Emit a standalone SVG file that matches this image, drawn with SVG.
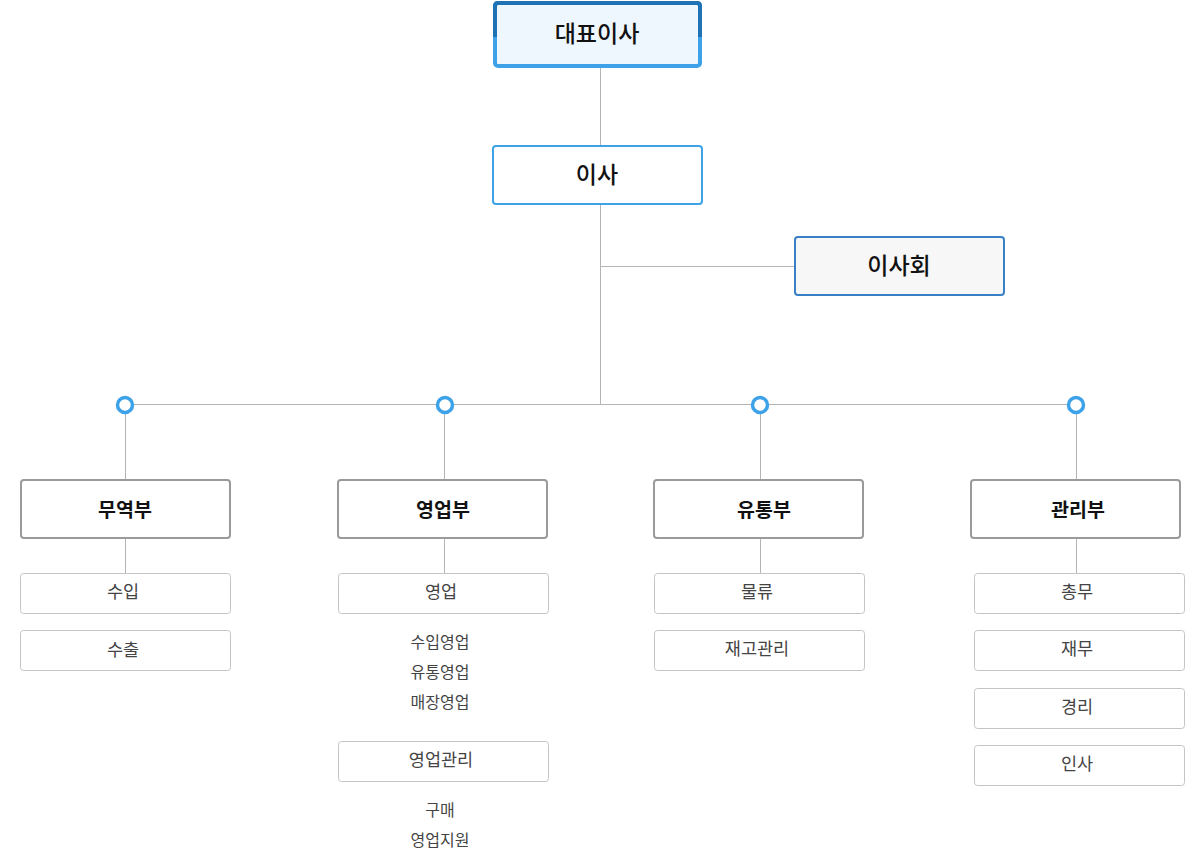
<svg xmlns="http://www.w3.org/2000/svg" width="1200" height="850" viewBox="0 0 1200 850">
<defs>
<style>
text{font-family:"Noto Sans CJK KR","Noto Sans",sans-serif;text-anchor:middle;dominant-baseline:central}
.t1{font-size:23px;font-weight:500;fill:#111}
.t2{font-size:19.5px;font-weight:700;fill:#111}
.t3{font-size:17.5px;fill:#444}
.t4{font-size:16px;fill:#444}
.ln{stroke:#b4b4b4;stroke-width:1;fill:none}
.dept{fill:#fff;stroke:#9a9a9a;stroke-width:2}
.sub{fill:#fff;stroke:#c4c4c4;stroke-width:1}
.dot{fill:#fff;stroke:#3ea2e8;stroke-width:3.5}
</style>
</defs>
<g id="connectors">
<line class="ln" x1="600.5" y1="68" x2="600.5" y2="146"/>
<line class="ln" x1="600.5" y1="204" x2="600.5" y2="404"/>
<line class="ln" x1="600" y1="266.5" x2="795" y2="266.5"/>
<line class="ln" x1="125" y1="404.5" x2="1076" y2="404.5"/>
<line class="ln" x1="125.5" y1="405" x2="125.5" y2="480"/>
<line class="ln" x1="444.5" y1="405" x2="444.5" y2="480"/>
<line class="ln" x1="760.5" y1="405" x2="760.5" y2="480"/>
<line class="ln" x1="1076.5" y1="405" x2="1076.5" y2="480"/>
<line class="ln" x1="125.5" y1="538" x2="125.5" y2="574"/>
<line class="ln" x1="444.5" y1="538" x2="444.5" y2="574"/>
<line class="ln" x1="760.5" y1="538" x2="760.5" y2="574"/>
<line class="ln" x1="1076.5" y1="538" x2="1076.5" y2="574"/>
<circle class="dot" cx="125" cy="405" r="7.5"/>
<circle class="dot" cx="445" cy="405" r="7.5"/>
<circle class="dot" cx="760" cy="405" r="7.5"/>
<circle class="dot" cx="1076" cy="405" r="7.5"/>
</g>
<g id="ceo">
<rect x="495" y="3" width="205" height="63" rx="3" fill="#eef7fd" stroke="#3ea2e8" stroke-width="4"/>
<path d="M495 37 V6 Q495 3 498 3 H697 Q700 3 700 6 V37" fill="none" stroke="#1f72b4" stroke-width="4"/>
<text class="t1" x="597" y="32">대표이사</text>
</g>
<g id="director">
<rect x="493" y="146" width="209" height="58" rx="3" fill="#fff" stroke="#3ea2e8" stroke-width="2"/>
<text class="t1" x="597" y="173">이사</text>
</g>
<g id="board">
<rect x="795" y="237" width="209" height="58" rx="3" fill="#f7f7f7" stroke="#3a80c6" stroke-width="2"/>
<text class="t1" x="899" y="264">이사회</text>
</g>
<g id="trade">
<rect class="dept" x="21" y="480" width="209" height="58" rx="3"/>
<text class="t2" x="125" y="508">무역부</text>
</g>
<g id="sales">
<rect class="dept" x="338" y="480" width="209" height="58" rx="3"/>
<text class="t2" x="443" y="508">영업부</text>
</g>
<g id="distribution">
<rect class="dept" x="654" y="480" width="209" height="58" rx="3"/>
<text class="t2" x="764" y="508">유통부</text>
</g>
<g id="admin">
<rect class="dept" x="971" y="480" width="209" height="58" rx="3"/>
<text class="t2" x="1078" y="508">관리부</text>
</g>
<g id="import">
<rect class="sub" x="20.5" y="573.5" width="210" height="40" rx="3"/>
<text class="t3" x="123" y="590">수입</text>
</g>
<g id="export">
<rect class="sub" x="20.5" y="630.5" width="210" height="40" rx="3"/>
<text class="t3" x="123" y="648">수출</text>
</g>
<g id="sales-team">
<rect class="sub" x="338.5" y="573.5" width="210" height="40" rx="3"/>
<text class="t3" x="441" y="590">영업</text>
<text class="t4" x="440" y="641">수입영업</text>
<text class="t4" x="440" y="671">유통영업</text>
<text class="t4" x="440" y="701">매장영업</text>
</g>
<g id="sales-mgmt">
<rect class="sub" x="338.5" y="741.5" width="210" height="40" rx="3"/>
<text class="t3" x="441" y="758">영업관리</text>
<text class="t4" x="440" y="809">구매</text>
<text class="t4" x="440" y="839">영업지원</text>
</g>
<g id="logistics">
<rect class="sub" x="654.5" y="573.5" width="210" height="40" rx="3"/>
<text class="t3" x="757" y="590">물류</text>
</g>
<g id="inventory">
<rect class="sub" x="654.5" y="630.5" width="210" height="40" rx="3"/>
<text class="t3" x="757" y="647">재고관리</text>
</g>
<g id="general">
<rect class="sub" x="974.5" y="573.5" width="210" height="40" rx="3"/>
<text class="t3" x="1077" y="590">총무</text>
</g>
<g id="finance">
<rect class="sub" x="974.5" y="630.5" width="210" height="40" rx="3"/>
<text class="t3" x="1077" y="647">재무</text>
</g>
<g id="accounting">
<rect class="sub" x="974.5" y="688.5" width="210" height="40" rx="3"/>
<text class="t3" x="1077" y="705">경리</text>
</g>
<g id="hr">
<rect class="sub" x="974.5" y="745.5" width="210" height="40" rx="3"/>
<text class="t3" x="1077" y="762">인사</text>
</g>
</svg>
